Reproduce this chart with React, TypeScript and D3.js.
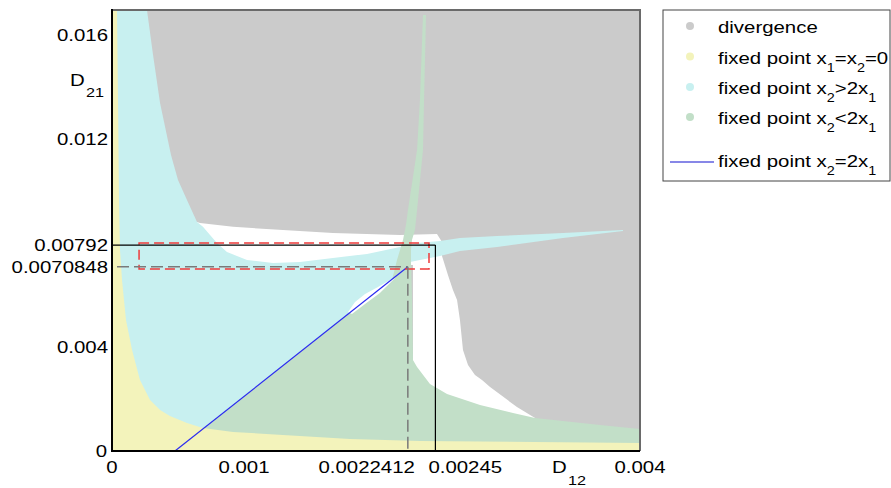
import React from "react";
import * as d3 from "d3";

// ---- axes / ticks ----
const X_MAX = 0.004;
const Y_MAX = 0.01696;
const xTickValues = [0, 0.001, 0.0022412, 0.00245, 0.004];
const xTickLabels = ["0", "0.001", "0.0022412", "0.00245", "0.004"];
const yTickValues = [0, 0.004, 0.0070848, 0.00792, 0.012, 0.016];
const yTickLabels = ["0", "0.004", "0.0070848", "0.00792", "0.012", "0.016"];

// ---- special parameter values ----
const D12_STAR = 0.0022412;
const D21_STAR = 0.0070848;
const D12_CRIT = 0.00245;
const D21_CRIT = 0.00792;
const zoomBox = [0.000205, 0.0024015, 0.007, 0.008]; // x0, x1, y0, y1
const lineStart: [number, number] = [0.000477, 0];

// ---- region boundaries (D12, D21) ----
const cyanRegion: [number, number][] = [
  [0, 0.01696], [0.000265, 0.01696], [0.000311, 0.01523], [0.000364, 0.01338],
  [0.000447, 0.01138], [0.0005, 0.01042], [0.000568, 0.00965], [0.000644, 0.00881],
  [0.000689, 0.00862], [0.000795, 0.008], [0.000871, 0.00765], [0.001023, 0.00735],
  [0.00122, 0.00723], [0.001424, 0.00727], [0.001674, 0.00742], [0.001932, 0.00758],
  [0.002182, 0.00785], [0.002311, 0.008], [0.002485, 0.00808], [0.002636, 0.00819],
  [0.002917, 0.00827], [0.003417, 0.00838], [0.003871, 0.0085], [0.003871, 0.00846],
  [0.003417, 0.00819], [0.002917, 0.00785], [0.002636, 0.00769], [0.002485, 0.0075],
  [0.002333, 0.00735], [0.002258, 0.00727], [0.0022412, 0.0070848], [0.000477, 0], [0, 0],
];
const whiteUpper: [number, number][] = [
  [0.000644, 0.00881], [0.000667, 0.00877], [0.000917, 0.00862], [0.001295, 0.0085],
  [0.001674, 0.00838], [0.002182, 0.00831], [0.002462, 0.00835], [0.0025, 0.00804],
  [0.0025, 0.00715], [0.000644, 0.00715],
];
const whiteRight: [number, number][] = [
  [0.00228, 0.00742], [0.0025, 0.0075], [0.002545, 0.00677], [0.002583, 0.00619],
  [0.002614, 0.00581], [0.002636, 0.00504], [0.002659, 0.00388], [0.002697, 0.00331],
  [0.00275, 0.00292], [0.002803, 0.00273], [0.002864, 0.00246], [0.003068, 0.00169],
  [0.003205, 0.00127], [0.00228, 0.00127],
];
const greenRegion: [number, number][] = [
  [0.000477, 0], [0.002121, 0.00658], [0.002144, 0.00704], [0.002159, 0.00735],
  [0.002182, 0.00773], [0.002205, 0.00812], [0.002227, 0.00869], [0.002242, 0.00927],
  [0.002311, 0.01158], [0.002333, 0.0135], [0.002356, 0.01677], [0.002379, 0.01677],
  [0.002364, 0.0135], [0.002356, 0.01158], [0.002311, 0.00927], [0.002295, 0.0085],
  [0.002273, 0.00812], [0.002265, 0.00773], [0.002265, 0.00727], [0.002273, 0.00581],
  [0.00228, 0.0035], [0.002311, 0.00323], [0.002409, 0.00258], [0.002538, 0.00219],
  [0.002788, 0.00177], [0.003038, 0.00146], [0.003205, 0.00127], [0.003697, 0.001],
  [0.004, 0.00085], [0.004, 0],
];
const yellowRegion: [number, number][] = [
  [0, 0.01696], [0.0000379, 0.01696], [0.0000455, 0.0135], [0.000053, 0.00965],
  [0.0000606, 0.00773], [0.0000758, 0.00658], [0.000106, 0.00504], [0.000152, 0.00388],
  [0.000212, 0.00273], [0.000288, 0.00196], [0.000364, 0.00158], [0.000439, 0.00135],
  [0.000568, 0.00108], [0.000689, 0.00088], [0.000917, 0.00073], [0.001295, 0.00062],
  [0.001803, 0.00046], [0.002333, 0.00038], [0.004, 0.00031], [0.004, 0], [0, 0],
];
const whiteBlob: [number, number][] = [
  [0.001788, 0.00535], [0.001841, 0.00573], [0.001917, 0.00604], [0.002015, 0.00631],
  [0.002106, 0.00658], [0.002152, 0.00669], [0.00203, 0.00608], [0.001917, 0.00565],
  [0.001818, 0.00527],
];

// ---- legend ----
type Seg = { t: string; sub?: boolean };
const legendLabels: Seg[][] = [
  [{ t: "divergence" }],
  [{ t: "fixed point x" }, { t: "1", sub: true }, { t: "=x" }, { t: "2", sub: true }, { t: "=0" }],
  [{ t: "fixed point x" }, { t: "2", sub: true }, { t: ">2x" }, { t: "1", sub: true }],
  [{ t: "fixed point x" }, { t: "2", sub: true }, { t: "<2x" }, { t: "1", sub: true }],
  [{ t: "fixed point x" }, { t: "2", sub: true }, { t: "=2x" }, { t: "1", sub: true }],
];
const legendKinds = ["dot", "dot", "dot", "dot", "line"];

const COLORS = {
  gray: "#cbcbcb",
  cyan: "#c8f0f0",
  yellow: "#f3f3bb",
  green: "#c2dfc8",
  blue: "#2a2af0",
};
const legendColors = [COLORS.gray, COLORS.yellow, COLORS.cyan, COLORS.green, "#1010d0"];

const FONT = "'Liberation Sans', Arial, Helvetica, sans-serif";
const SX = 1.2;

const W = 891, H = 488;
const PL = 112, PR = 640, PT = 10, PB = 451;

function Label({ x, y, anchor = "start", size = 17, children }: any) {
  return (
    <text
      transform={`translate(${x},${y}) scale(${SX},1)`}
      textAnchor={anchor}
      fontSize={size}
      fontFamily={FONT}
      fill="#000"
    >
      {children}
    </text>
  );
}

export default function App() {
  const x = d3.scaleLinear().domain([0, X_MAX]).range([PL, PR]);
  const y = d3.scaleLinear().domain([0, Y_MAX]).range([PB, PT]);
  const line = d3
    .line<[number, number]>()
    .x((d) => x(d[0]))
    .y((d) => y(d[1]));
  const poly = (pts: [number, number][]) => (line(pts) || "") + "Z";

  const xLabelAnchor = ["middle", "middle", "end", "start", "middle"];
  const xLabelDx = [0, 0, 7, -7, 0];
  const legendRowY = [33, 63.5, 94, 124, 167];

  return (
    <svg
      width={W}
      height={H}
      style={{ position: "absolute", left: 0, top: 0, background: "#fff" }}
    >
      <defs>
        <clipPath id="plotclip">
          <rect x={PL} y={PT} width={PR - PL} height={PB - PT} />
        </clipPath>
      </defs>
      <g clipPath="url(#plotclip)">
        <rect x={PL} y={PT} width={PR - PL} height={PB - PT} fill={COLORS.gray} />
        <path d={poly(whiteUpper)} fill="#fff" />
        <path d={poly(whiteRight)} fill="#fff" />
        <path d={poly(cyanRegion)} fill={COLORS.cyan} />
        <path d={poly(greenRegion)} fill={COLORS.green} />
        <path d={poly(yellowRegion)} fill={COLORS.yellow} />
        <path d={poly(whiteBlob)} fill="#fff" />
        {/* fixed point x2 = 2x1 line */}
        <line
          x1={x(lineStart[0])}
          y1={y(lineStart[1])}
          x2={x(D12_STAR)}
          y2={y(D21_STAR)}
          stroke={COLORS.blue}
          strokeWidth={1.2}
        />
        {/* red dashed zoom box */}
        <rect
          x={x(zoomBox[0])}
          y={y(zoomBox[3])}
          width={x(zoomBox[1]) - x(zoomBox[0])}
          height={y(zoomBox[2]) - y(zoomBox[3])}
          fill="none"
          stroke="#ee3a3a"
          strokeWidth={1.5}
          strokeDasharray="10,5"
        />
        {/* gray dashed lines */}
        <line
          x1={x(0.0000379)}
          x2={x(D12_STAR)}
          y1={y(D21_STAR)}
          y2={y(D21_STAR)}
          stroke="#7a7a7a"
          strokeWidth={1.5}
          strokeDasharray="12,5"
        />
        <line
          x1={x(D12_STAR)}
          x2={x(D12_STAR)}
          y1={y(D21_STAR)}
          y2={y(0)}
          stroke="#7a7a7a"
          strokeWidth={1.5}
          strokeDasharray="12,5"
        />
        {/* black solid lines */}
        <line x1={x(0)} x2={x(D12_CRIT)} y1={y(D21_CRIT)} y2={y(D21_CRIT)} stroke="#000" strokeWidth={1.2} />
        <line x1={x(D12_CRIT)} x2={x(D12_CRIT)} y1={y(D21_CRIT)} y2={y(0)} stroke="#000" strokeWidth={1.2} />
      </g>

      {/* frame */}
      <line x1={PL} x2={PR + 1} y1={PT} y2={PT} stroke="#6a6a6a" strokeWidth={2} />
      <line x1={PR} x2={PR} y1={PT} y2={PB} stroke="#6a6a6a" strokeWidth={2} />
      <line x1={PL} x2={PL} y1={PT - 1} y2={PB + 1} stroke="#000" strokeWidth={2} />
      <line x1={PL - 1} x2={PR} y1={PB} y2={PB} stroke="#000" strokeWidth={2} />

      {/* x tick labels */}
      {xTickValues.map((v, i) => (
        <Label key={"xt" + i} x={x(v) + xLabelDx[i]} y={473} anchor={xLabelAnchor[i]}>
          {xTickLabels[i]}
        </Label>
      ))}
      {/* y tick labels */}
      {yTickValues.map((v, i) => (
        <Label key={"yt" + i} x={v === 0 ? 107 : 108} y={y(v) + 6.3} anchor="end">
          {yTickLabels[i]}
        </Label>
      ))}
      {/* axis titles */}
      <Label x={70} y={86}>
        D
        <tspan fontSize={13.5} dy={10.7} dx={1}>
          21
        </tspan>
      </Label>
      <Label x={552} y={473}>
        D
        <tspan fontSize={13.5} dy={12.5} dx={1}>
          12
        </tspan>
      </Label>

      {/* legend */}
      <rect x={663} y={10} width={227} height={171} fill="#fff" stroke="#444" strokeWidth={1} />
      {legendLabels.map((segs, i) => {
        const by = legendRowY[i];
        return (
          <g key={"lg" + i}>
            {legendKinds[i] === "dot" ? (
              <circle cx={690} cy={by - 7} r={4} fill={legendColors[i]} />
            ) : (
              <line x1={670} x2={714} y1={by - 5} y2={by - 5} stroke={legendColors[i]} strokeWidth={1.2} />
            )}
            <Label x={718} y={by}>
              {segs.map((s, j) => {
                const prevSub = j > 0 && segs[j - 1].sub;
                const dy = s.sub ? 8 : prevSub ? -8 : 0;
                return (
                  <tspan key={j} dy={dy} fontSize={s.sub ? 12 : 17}>
                    {s.t}
                  </tspan>
                );
              })}
            </Label>
          </g>
        );
      })}
    </svg>
  );
}
